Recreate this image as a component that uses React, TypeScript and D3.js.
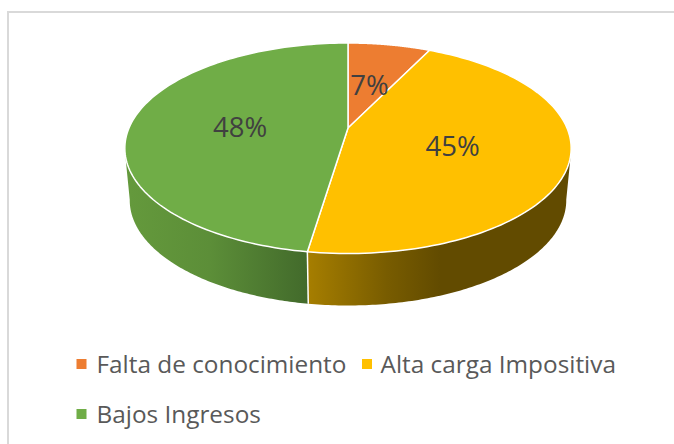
import React from 'react';
import * as d3 from 'd3';

const categories = ['Falta de conocimiento', 'Alta carga Impositiva', 'Bajos Ingresos'];
const values = [7.2, 45.2, 47.6];
const colors = ['#ED7D31', '#FFC000', '#70AD47'];

const W = 674, H = 444;
// perspective projection of the unit disc onto the page
const CX = 348, CY = 128, K = 0.1924, RY = 101.35, RX = 219, DEPTH = 52, BOTTOM_SHRINK = 0.978;
const project = (t: number, r = 1, drop = 0, sx = 1): [number, number] => {
  const u = Math.cos(t) * r, v = Math.sin(t) * r, den = 1 + K * u;
  return [CX + (sx * RX * v) / den, CY + drop - (RY * u) / den];
};
const line = d3.line<[number, number]>().curve(d3.curveLinear);
const pie = d3.pie<number>().sort(null).value(d => d);
const arcs = pie(values);
const total = d3.sum(values);
const pct = d3.format('.0%');
const samples = (a: number, b: number) => d3.range(0, 121).map(i => a + ((b - a) * i) / 120);
const deg = (d: number) => (d * Math.PI) / 180;

const topPath = (a: number, b: number) =>
  line([[CX, CY], ...samples(a, b).map(t => project(t))])! + 'Z';
const wallPath = (topA: number, topB: number, botA: number, botB: number) =>
  line([
    ...samples(topA, topB).map(t => project(t)),
    ...samples(botB, botA).map(t => project(t, 1, DEPTH, BOTTOM_SHRINK)),
  ])! + 'Z';

const seam = arcs[1].endAngle;
const rightTop = deg(104), rightBot = deg(100.8);
const leftTop = deg(256), leftBot = deg(259.2);

const fontFamily = '"Open Sans", sans-serif';
const legendRows = [
  { i: 0, sq: 76.5, tx: 96.5, y: 364 },
  { i: 1, sq: 362, tx: 380.5, y: 364 },
  { i: 2, sq: 76.5, tx: 96.5, y: 414 },
];
const labelNudge = [-1, -3, 0.5];

export default function App() {
  return (
    <svg width={W} height={H} style={{ position: 'absolute', left: 0, top: 0 }}>
      <defs>
        <linearGradient id="gGreen" gradientUnits="userSpaceOnUse" x1={130} x2={308} y1={0} y2={0}>
          <stop offset="0" stopColor="#64993C" />
          <stop offset="0.45" stopColor="#5C8E38" />
          <stop offset="1" stopColor="#426A2B" />
        </linearGradient>
        <linearGradient id="gYellow" gradientUnits="userSpaceOnUse" x1={308} x2={440} y1={0} y2={0}>
          <stop offset="0" stopColor="#A67E00" />
          <stop offset="0.6" stopColor="#785C00" />
          <stop offset="1" stopColor="#624B00" />
        </linearGradient>
      </defs>
      <rect x={0} y={0} width={W} height={H} fill="#fff" />
      <path d={`M8 ${H}V12H${W}`} fill="none" stroke="#D9D9D9" strokeWidth={2} />

      <path d={wallPath(seam, rightTop, seam, rightBot)} fill="url(#gYellow)" />
      <path d={wallPath(seam, leftTop, seam, leftBot)} fill="url(#gGreen)" />
      <path d={line([project(seam), project(seam, 1, DEPTH, BOTTOM_SHRINK)])!} stroke="#fff" strokeWidth={1.5} fill="none" />

      {arcs.map((a, i) => (
        <path key={categories[i]} d={topPath(a.startAngle, a.endAngle)} fill={colors[i]} stroke="#fff" strokeWidth={1.5} strokeLinejoin="round" />
      ))}

      {arcs.map((a, i) => {
        const [x, y] = project((a.startAngle + a.endAngle) / 2, 0.5);
        return (
          <text key={i} x={x + labelNudge[i]} y={y + 3} dy="0.35em" textAnchor="middle" fontFamily={fontFamily} fontSize={27.5} fill="#404040">
            {pct(values[i] / total)}
          </text>
        );
      })}

      {legendRows.map(r => (
        <g key={r.i}>
          <rect x={r.sq} y={r.y - 5} width={10} height={10} fill={colors[r.i]} />
          <text x={r.tx} y={r.y} dy="0.35em" fontFamily={fontFamily} fontSize={24.35} fill="#595959">
            {categories[r.i]}
          </text>
        </g>
      ))}
    </svg>
  );
}
